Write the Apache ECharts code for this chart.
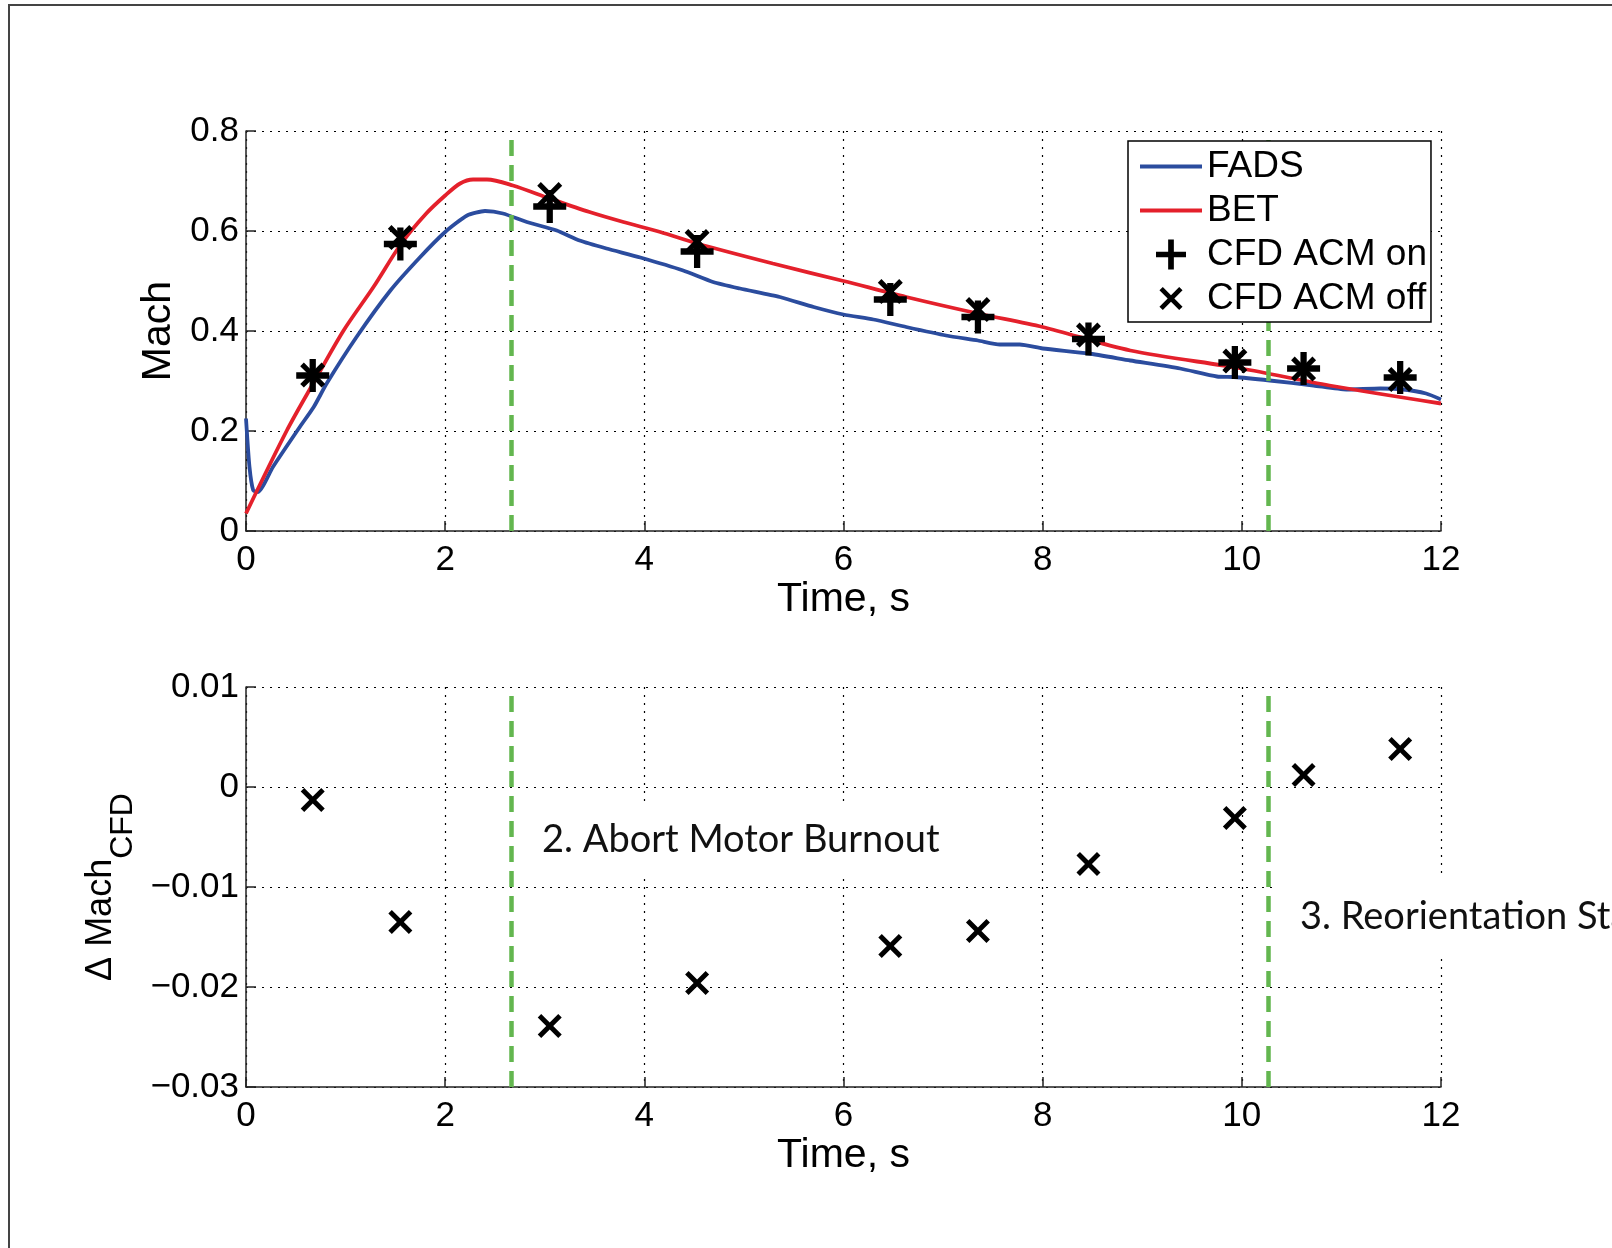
<!DOCTYPE html>
<html>
<head>
<meta charset="utf-8">
<title>FADS / BET / CFD Mach</title>
<script src="https://cdn.jsdelivr.net/npm/echarts@6/dist/echarts.min.js"></script>
<style>
  html, body { margin: 0; padding: 0; background: #fff; }
  #chart { width: 1612px; height: 1248px; }
</style>
</head>
<body>
<div id="chart"></div>
<script>
// FADS trace (blue)
var fadsTime = [0, 0.035, 0.073, 0.12, 0.27, 0.54, 0.68, 0.81, 1.11, 1.45, 1.75, 2.0, 2.22, 2.4, 2.58, 2.82,
  3.12, 3.35, 3.62, 3.96, 4.39, 4.69, 4.96, 5.36, 5.7, 6.0, 6.3, 6.63, 7.03, 7.35, 7.57, 7.77, 8.0,
  8.46, 8.88, 9.38, 9.75, 9.92, 10.28, 10.72, 11.05, 11.39, 11.62, 11.85, 12.0];
var fadsMach = [0.225, 0.128, 0.081, 0.078, 0.128, 0.208, 0.248, 0.295, 0.388, 0.481, 0.548, 0.598, 0.631, 0.64, 0.635, 0.618,
  0.601, 0.581, 0.565, 0.547, 0.521, 0.498, 0.485, 0.468, 0.448, 0.433, 0.423, 0.408, 0.391, 0.381, 0.373, 0.373, 0.365,
  0.355, 0.341, 0.325, 0.309, 0.308, 0.301, 0.291, 0.283, 0.285, 0.283, 0.275, 0.263];

// BET trace (red)
var betTime = [0, 0.41, 0.68, 0.98, 1.28, 1.56, 1.81, 2.0, 2.15, 2.28, 2.42, 2.68, 3.05, 3.45, 3.79, 4.16,
  4.53, 5.29, 6.0, 6.63, 7.35, 8.0, 8.88, 10.0, 10.88, 12.0];
var betMach = [0.035, 0.201, 0.297, 0.401, 0.488, 0.575, 0.635, 0.671, 0.695, 0.703, 0.703, 0.691, 0.665, 0.638, 0.618, 0.598,
  0.575, 0.535, 0.5, 0.468, 0.435, 0.408, 0.361, 0.325, 0.291, 0.255];

// CFD points
var cfdTime = [0.67, 1.55, 3.05, 4.53, 6.47, 7.35, 8.46, 9.93, 10.62, 11.59];
var cfdOn = [0.311, 0.574, 0.649, 0.559, 0.463, 0.428, 0.384, 0.337, 0.325, 0.307];
var cfdOff = [0.312, 0.587, 0.673, 0.579, 0.479, 0.443, 0.392, 0.340, 0.324, 0.303];
var deltaCfd = [-0.0013, -0.0135, -0.0239, -0.0196, -0.0159, -0.0144, -0.0077, -0.0031, 0.0012, 0.0038];

// phase markers (s)
var phaseTimes = [2.66, 10.27];
var phaseLabels = ['2. Abort Motor Burnout', '3. Reorientation Start'];

var BLUE = '#2B4C9E', RED = '#E4202B', GREEN = '#63B64F';
var FONT = 'Liberation Sans';

var plusPath = 'path://M-1.9,-10L1.9,-10L1.9,-1.9L10,-1.9L10,1.9L1.9,1.9L1.9,10L-1.9,10L-1.9,1.9L-10,1.9L-10,-1.9L-1.9,-1.9Z';
var crossShape = 'M0,-2.9L7.1,-10L10,-7.1L2.9,0L10,7.1L7.1,10L0,2.9L-7.1,10L-10,7.1L-2.9,0L-10,-7.1L-7.1,-10Z';
var crossPath = 'path://' + crossShape;
var crossLegend = 'path://M-13,-13M13,13' + crossShape;
var lineIcon = 'path://M0,0L62,0L62,4L0,4Z';

function zip(xs, ys) {
  return xs.map(function (x, i) { return [x, ys[i]]; });
}

function fmt(digits) {
  return function (v) {
    if (Math.abs(v) < 1e-9) return '0';
    return v.toFixed(digits).replace('-', '\u2212');
  };
}

function xAxisCfg(idx) {
  return {
    type: 'value', gridIndex: idx, min: 0, max: 12, interval: 2,
    name: 'Time, s', nameLocation: 'middle', nameGap: 45,
    nameTextStyle: { color: '#000', fontSize: 41, fontFamily: FONT },
    axisLine: { show: true, onZero: false, lineStyle: { color: '#222', width: 1.5 } },
    axisTick: { show: true, inside: true, length: 10, lineStyle: { color: '#222', width: 1.5 } },
    axisLabel: { color: '#000', fontSize: 35, fontFamily: FONT, margin: 12, showMinLabel: true, showMaxLabel: true },
    splitLine: { show: true, lineStyle: { color: '#000', width: 1.2, type: [2, 6] } }
  };
}

function yAxisCfg(idx, min, max, interval, digits) {
  return {
    type: 'value', gridIndex: idx, min: min, max: max, interval: interval,
    nameLocation: 'middle',
    axisLine: { show: true, onZero: false, lineStyle: { color: '#222', width: 1.5 } },
    axisTick: { show: true, inside: true, length: 10, lineStyle: { color: '#222', width: 1.5 } },
    axisLabel: { color: '#000', fontSize: 35, fontFamily: FONT, margin: 7, formatter: fmt(digits), showMinLabel: true, showMaxLabel: true },
    splitLine: { show: true, lineStyle: { color: '#000', width: 1.2, type: [2, 6] } }
  };
}

var phaseLines = {
  silent: true, symbol: 'none', animation: false,
  label: { show: false },
  lineStyle: { color: GREEN, width: 4.5, type: [16, 9] },
  data: phaseTimes.map(function (t) { return { xAxis: t }; })
};

var chart = echarts.init(document.getElementById('chart'));

var yTop = yAxisCfg(0, 0, 0.8, 0.2, 1);
yTop.name = 'Mach';
yTop.nameGap = 64;
yTop.nameTextStyle = { color: '#000', fontSize: 41, fontFamily: FONT };

var yBottom = yAxisCfg(1, -0.03, 0.01, 0.01, 2);
yBottom.name = '{m|\u0394 Mach}{s|CFD}';
yBottom.nameGap = 89;
yBottom.nameTextStyle = {
  color: '#000', fontFamily: FONT,
  rich: {
    m: { fontSize: 36, lineHeight: 36, verticalAlign: 'top', fontFamily: FONT, color: '#000' },
    s: { fontSize: 32, lineHeight: 56, verticalAlign: 'bottom', fontFamily: FONT, color: '#000' }
  }
};

var option = {
  animation: false,
  backgroundColor: '#fff',
  grid: [
    { left: 246, top: 131, width: 1195, height: 400, outerBoundsMode: 'none' },
    { left: 246, top: 687, width: 1195, height: 400, outerBoundsMode: 'none' }
  ],
  xAxis: [xAxisCfg(0), xAxisCfg(1)],
  yAxis: [yTop, yBottom],
  legend: {
    z: 20,
    orient: 'vertical', left: 1128, top: 141,
    itemWidth: 62, itemHeight: 30, itemGap: 7,
    padding: [7, 4, 5, 12],
    borderColor: '#000', borderWidth: 1.5, borderRadius: 0, backgroundColor: '#fff',
    textStyle: { color: '#000', fontSize: 37, fontFamily: FONT },
    data: [
      { name: 'FADS', icon: lineIcon },
      { name: 'BET', icon: lineIcon },
      { name: 'CFD ACM on', icon: plusPath },
      { name: 'CFD ACM off', icon: crossLegend }
    ]
  },
  graphic: [
    { type: 'rect', silent: true, shape: { x: 9, y: 5, width: 1700, height: 1400 },
      style: { fill: 'none', stroke: '#444', lineWidth: 2 } },
    { type: 'text', silent: true, z: 1, x: 528, y: 840,
      style: { text: phaseLabels[0], font: '38px Lato', fill: '#111', backgroundColor: '#fff',
        padding: [18, 12, 18, 14], verticalAlign: 'middle', align: 'left' } },
    { type: 'text', silent: true, z: 1, x: 1273, y: 917,
      style: { text: phaseLabels[1], font: '38px Lato', fill: '#111', backgroundColor: '#fff',
        padding: [21, 12, 21, 27], verticalAlign: 'middle', align: 'left' } }
  ],
  series: [
    { name: 'FADS', type: 'line', xAxisIndex: 0, yAxisIndex: 0, data: zip(fadsTime, fadsMach),
      symbol: 'none', smooth: 0.2, color: BLUE, lineStyle: { color: BLUE, width: 3.8 } },
    { name: 'BET', type: 'line', xAxisIndex: 0, yAxisIndex: 0, data: zip(betTime, betMach),
      symbol: 'none', smooth: 0.3, color: RED, lineStyle: { color: RED, width: 3.8 }, markLine: phaseLines },
    { name: 'CFD ACM on', type: 'scatter', xAxisIndex: 0, yAxisIndex: 0, data: zip(cfdTime, cfdOn),
      symbol: plusPath, symbolSize: 33, symbolKeepAspect: true, itemStyle: { color: '#000', opacity: 1 }, z: 4 },
    { name: 'CFD ACM off', type: 'scatter', xAxisIndex: 0, yAxisIndex: 0, data: zip(cfdTime, cfdOff),
      symbol: crossPath, symbolSize: 25, symbolKeepAspect: true, itemStyle: { color: '#000', opacity: 1 }, z: 4 },
    { name: 'dMach', type: 'scatter', xAxisIndex: 1, yAxisIndex: 1, data: zip(cfdTime, deltaCfd),
      symbol: crossPath, symbolSize: 24, symbolKeepAspect: true, itemStyle: { color: '#000', opacity: 1 }, z: 4,
      markLine: phaseLines }
  ]
};

chart.setOption(option);
</script>
</body>
</html>
